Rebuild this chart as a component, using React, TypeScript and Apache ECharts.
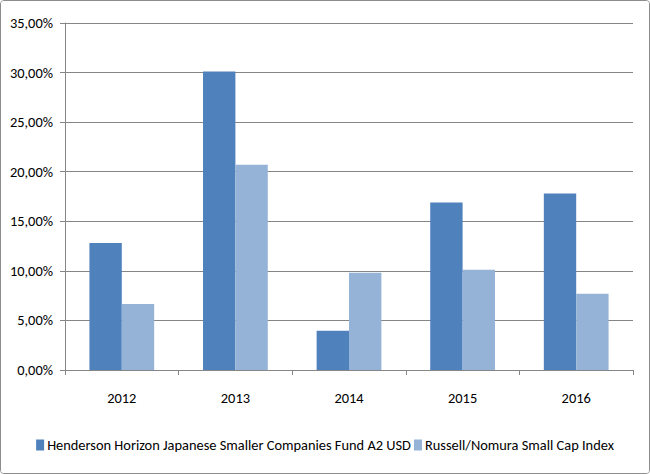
import React, { useEffect, useRef } from "react";
import * as echarts from "echarts";

const categories = ["2012", "2013", "2014", "2015", "2016"];
const fundName = "Henderson Horizon Japanese Smaller Companies Fund A2 USD";
const indexName = "Russell/Nomura Small Cap Index";
const fundValues = [12.8, 30.1, 3.95, 16.9, 17.8];
const indexValues = [6.65, 20.7, 9.8, 10.1, 7.7];

const FONT = "Carlito, 'Liberation Sans', sans-serif";

export default function App() {
  const ref = useRef<HTMLDivElement>(null);
  useEffect(() => {
    document.body.style.margin = "0";
    if (!ref.current) return;
    const chart = echarts.init(ref.current, undefined, { renderer: "svg" });
    chart.setOption({
      animation: false,
      backgroundColor: "#ffffff",
      textStyle: { fontFamily: FONT },
      grid: { left: 64, right: 16, top: 22, bottom: 103, containLabel: false },
      legend: {
        top: 432,
        left: "center",
        width: 640,
        itemWidth: 8,
        itemHeight: 11,
        itemGap: 3,
        icon: "rect",
        textStyle: { fontFamily: FONT, fontSize: 14.4, color: "#000", padding: [0, 0, 0, -2] },
        data: [fundName, indexName],
      },
      xAxis: {
        type: "category",
        data: categories,
        axisLine: { lineStyle: { color: "#868686", width: 1 } },
        axisTick: { show: true, length: 5, inside: false, lineStyle: { color: "#868686" } },
        axisLabel: { color: "#000", fontSize: 14.4, fontFamily: FONT, margin: 21 },
      },
      yAxis: {
        type: "value",
        min: 0,
        max: 35,
        interval: 5,
        axisLine: { show: true, lineStyle: { color: "#868686", width: 1 } },
        axisTick: { show: true, length: 5, lineStyle: { color: "#868686" } },
        splitLine: { show: true, lineStyle: { color: "#868686", width: 1 } },
        axisLabel: {
          color: "#000",
          fontSize: 14.4,
          fontFamily: FONT,
          margin: 12,
          formatter: (v: number) => v.toFixed(2).replace(".", ",") + "%",
        },
      },
      series: [
        {
          name: fundName,
          type: "bar",
          data: fundValues,
          itemStyle: { color: "#4F81BD" },
          barGap: "0%",
          barCategoryGap: "43%",
        },
        {
          name: indexName,
          type: "bar",
          data: indexValues,
          itemStyle: { color: "#95B3D7" },
          barGap: "0%",
          barCategoryGap: "43%",
        },
      ],
    });
    return () => chart.dispose();
  }, []);
  return (
    <div
      style={{
        width: 650,
        height: 474,
        boxSizing: "border-box",
        border: "1px solid #8c8c8c",
        borderRadius: 4,
        overflow: "hidden",
        background: "#fff",
      }}
    >
      <div ref={ref} style={{ width: 648, height: 472 }} />
    </div>
  );
}
